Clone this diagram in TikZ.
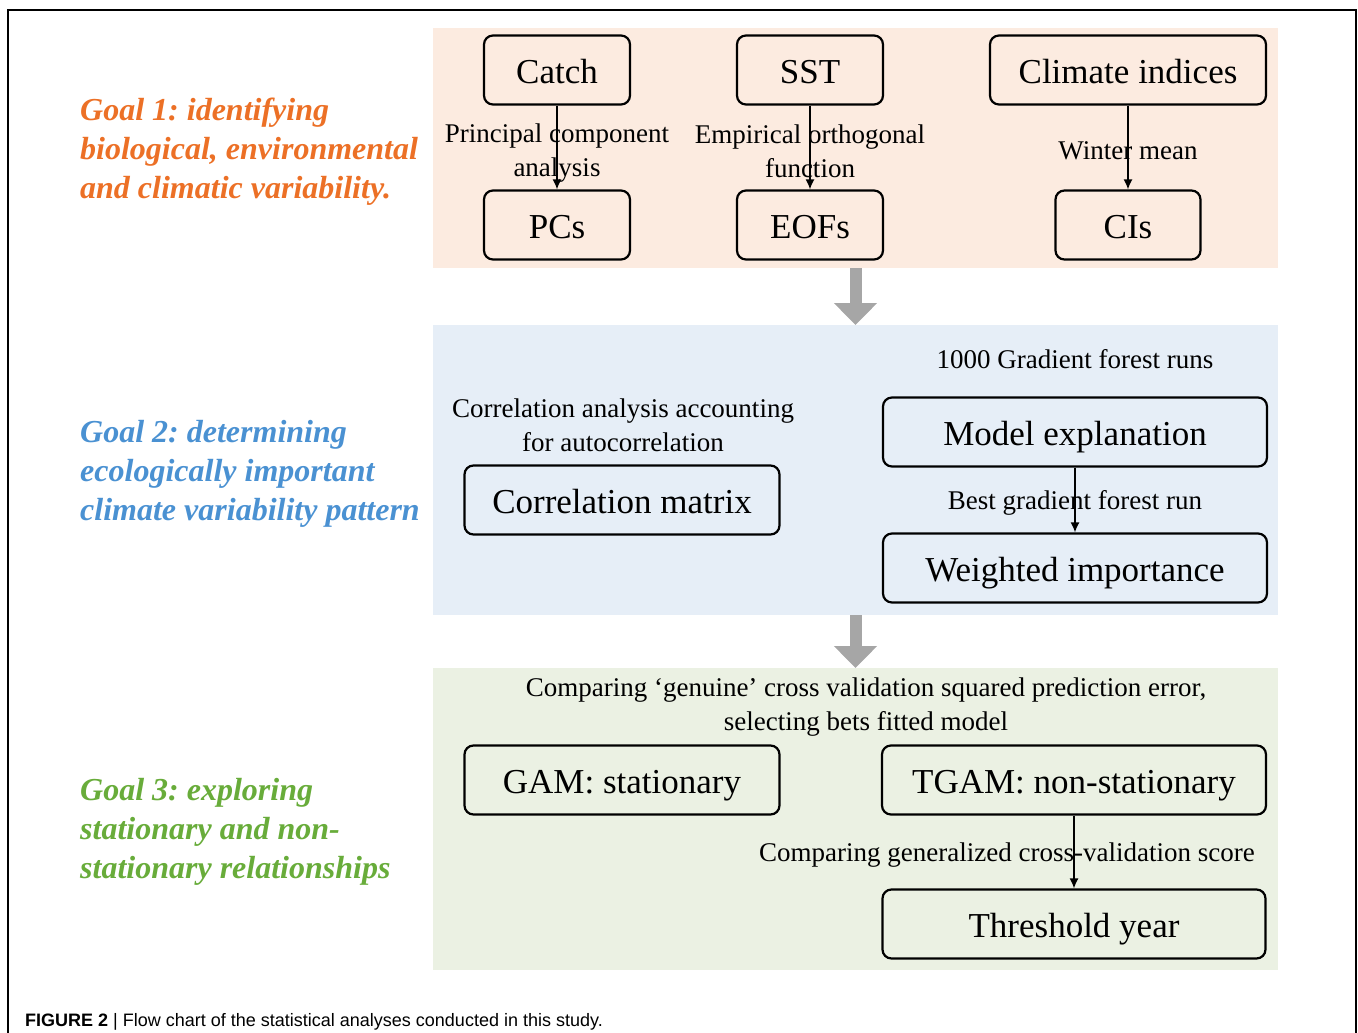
\documentclass[tikz,border=0pt]{standalone}
\usepackage{fontspec}
\setmainfont{Liberation Serif}
\setsansfont{Liberation Sans}
\usetikzlibrary{arrows.meta}

\definecolor{goalorange}{RGB}{236,112,38}
\definecolor{goalblue}{RGB}{74,145,210}
\definecolor{goalgreen}{RGB}{104,172,58}
\definecolor{panelorange}{RGB}{252,235,224}
\definecolor{panelblue}{RGB}{230,238,247}
\definecolor{panelgreen}{RGB}{235,241,227}
\definecolor{flowgray}{RGB}{166,166,166}

\begin{document}
\frenchspacing
\begin{tikzpicture}[x=1pt,y=-1pt,
  panel/.style={inner sep=0pt, outer sep=0pt, minimum width=845pt},
  box/.style={draw, line width=2.2pt, rounded corners=9pt, minimum height=69pt,
    inner sep=0pt, text height=30pt, text depth=3pt, font=\fontsize{35}{40}\selectfont},
  lbl/.style={inner sep=0pt, align=center, font=\fontsize{27}{34}\selectfont},
  goal/.style={inner sep=0pt, align=left, anchor=west,
    font=\fontsize{32}{39}\selectfont\bfseries\itshape},
  flow/.style={-{Latex[length=10pt,width=9pt]}, line width=1.4pt},
  bigflow/.style={line width=12pt, flowgray, -{Triangle[length=22pt,width=42pt]}}]

 \useasboundingbox (0,0) rectangle (1358,1033);
 \draw[line width=1.3pt] (8,1033) -- (8,10) -- (1356,10) -- (1356,1033);

 % panels
 \node[panel, fill=panelorange, minimum height=240pt] (pone) at (855.5,148) {};
 \node[panel, fill=panelblue, minimum height=290pt] (ptwo) at (855.5,470) {};
 \node[panel, fill=panelgreen, minimum height=302pt] (pthree) at (855.5,819) {};

 \draw[bigflow] (pone.south) -- (ptwo.north);
 \draw[bigflow] (ptwo.south) -- (pthree.north);

 % goals
 \node[goal, text=goalorange] (gone) at (80,152) {Goal 1: identifying\\biological, environmental\\and climatic variability.};
 \node[goal, text=goalblue] (gtwo) at (80,474) {Goal 2: determining\\ecologically important\\climate variability pattern};
 \node[goal, text=goalgreen] (gthree) at (80,832) {Goal 3: exploring\\stationary and non-\\stationary relationships};

 % goal 1
 \node[box, minimum width=146pt] (catch) at (557,70) {Catch};
 \node[box, minimum width=146pt] (sst) at (810,70) {SST};
 \node[box, minimum width=276pt] (clim) at (1128,70) {Climate indices};
 \node[box, minimum width=146pt] (pcs) at (557,225) {PCs};
 \node[box, minimum width=146pt] (eofs) at (810,225) {EOFs};
 \node[box, minimum width=145pt] (cis) at (1128,225) {CIs};

 \node[lbl] (pca) at (557,153) {Principal component\\analysis};
 \node[lbl] (eof) at (810,151) {Empirical orthogonal\\function};
 \node[lbl] (winter) at (1128,151) {Winter mean};

 \draw[flow] (catch) -- (pcs);
 \draw[flow] (sst) -- (eofs);
 \draw[flow] (clim) -- (cis);

 % goal 2
 \node[lbl] (gfruns) at (1075,359) {1000 Gradient forest runs};
 \node[box, minimum width=384pt] (model) at (1075,432) {Model explanation};
 \node[lbl] (best) at (1075,503) {Best gradient forest run};
 \node[box, minimum width=384pt] (weight) at (1075,568) {Weighted importance};
 \node[lbl] (corlbl) at (623,425) {Correlation analysis accounting\\for autocorrelation};
 \node[box, minimum width=315pt] (cormat) at (622,500) {Correlation matrix};

 \draw[flow] (model) -- (weight);

 % goal 3
 \node[lbl] (cvlbl) at (866,707) {Comparing `genuine' cross validation squared prediction error,\\selecting bets fitted model};
 \node[box, minimum width=315pt] (gam) at (622,780) {GAM: stationary};
 \node[box, minimum width=384pt] (tgam) at (1074,780) {TGAM: non-stationary};
 \node[lbl] (gcv) at (1007,855) {Comparing generalized cross-validation score};
 \node[box, minimum width=383pt] (thresh) at (1074,924) {Threshold year};

 \draw[flow] (tgam) -- (thresh);

 % caption
 \node[anchor=base west, inner sep=0pt, font=\sffamily\fontsize{18}{20}\selectfont] (cap) at (25,1026)
   {\textbf{FIGURE 2} | Flow chart of the statistical analyses conducted in this study.};

\end{tikzpicture}
\end{document}
